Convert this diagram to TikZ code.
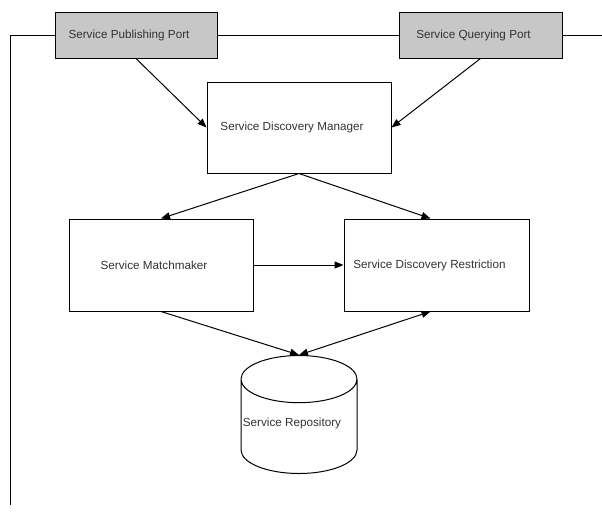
\documentclass[tikz,border=0pt]{standalone}
\usepackage{fontspec}
\setmainfont{Liberation Sans}
\usepackage{tikz}
\usetikzlibrary{shapes,arrows.meta,positioning}
\tikzset{
    box/.style={draw, line width=1pt, minimum width=184pt, minimum height=92pt,
        text=black!80, font=\fontsize{11.7}{14}\selectfont,
        execute at begin node={\kern-7pt}, execute at end node={\kern7pt}},
    port/.style={box, fill=black!22, minimum width=162pt, minimum height=46pt},
    flow/.style={-{Triangle[length=9pt,width=7pt]}, line width=1pt},
    link/.style={line width=1pt}
}

\begin{document}
\begin{tikzpicture}[x=1pt,y=-1pt]
    \useasboundingbox (0,0) rectangle (602,517);
    % discovery architecture
    \coordinate (busL) at (10,505);
    \coordinate (busC) at (10,35);
    \coordinate (busR) at (602,35);

    \node[port] (pub) at (136,35) {Service Publishing Port};
    \node[port, minimum width=163pt] (query) at (480.5,35) {Service Querying Port};
    \node[box, minimum height=91pt] (manager) at (299,127.5) {Service Discovery Manager};
    \node[box] (match) at (161,265) {Service Matchmaker};
    \node[box, minimum width=185pt] (restrict) at (436.5,265) {Service Discovery Restriction};
    \node[box, cylinder, shape border rotate=90, aspect=0.45, anchor=north,
        minimum width=116pt, minimum height=118pt] (repo) at (299,355)
        {\raisebox{7pt}[\height][\depth]{Service Repository}};

    \draw[link] (busL) -- (busC) -- (pub.west);
    \draw[link] (pub.east) -- (query.west);
    \draw[link] (query.east) -- (busR);

    \draw[flow] (pub.south) -- (manager.west);
    \draw[flow] (query.south) -- (manager.east);
    \draw[flow] (manager.south) -- (match.north);
    \draw[flow] (manager.south) -- ([xshift=-6pt]restrict.north);
    \draw[flow] (match.east) -- (restrict.west);
    \draw[flow] (match.south) -- (repo.north);
    \draw[flow, {Triangle[length=9pt,width=7pt]}-{Triangle[length=9pt,width=7pt]}] (repo.north) -- ([xshift=-6pt]restrict.south);
\end{tikzpicture}
\end{document}
